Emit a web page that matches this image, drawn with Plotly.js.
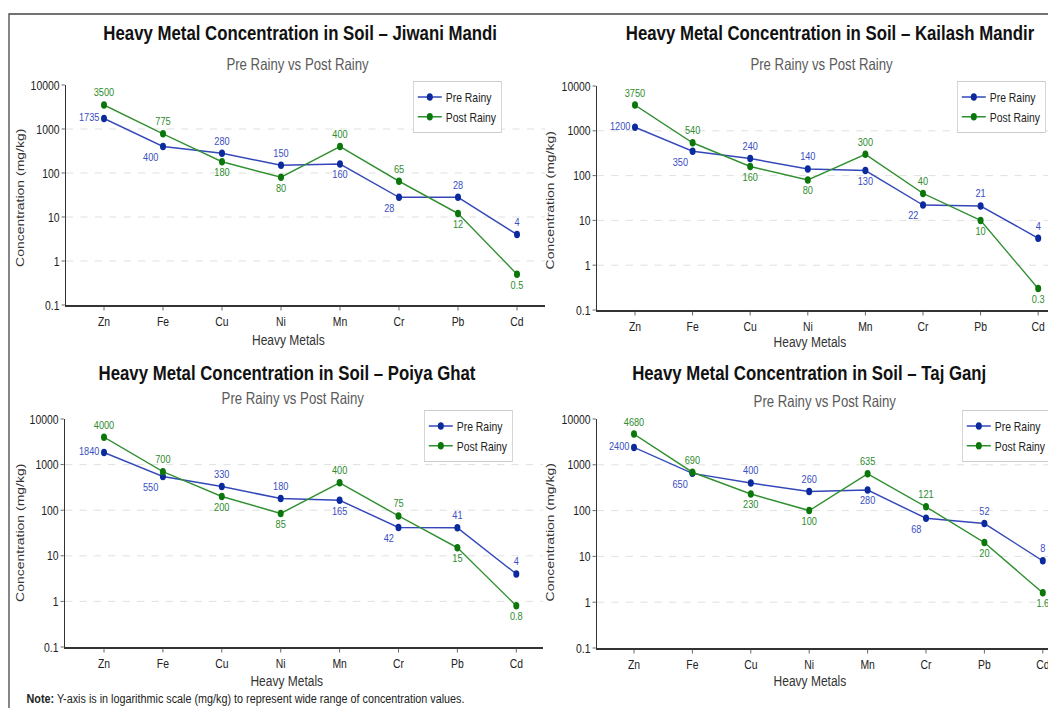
<!DOCTYPE html>
<html>
<head>
<meta charset="utf-8">
<script src="https://cdn.plot.ly/plotly-3.0.1.min.js"></script>
<style>
  html, body { margin: 0; padding: 0; overflow: hidden; background: #ffffff; width: 1048px; height: 708px; }
  #chart { width: 1375px; height: 740px; transform: scaleX(0.8); transform-origin: 0 0; }
</style>
</head>
<body>
<div id="chart"></div>
<script>
// ---------------- DATA ----------------
const metals = ['Zn', 'Fe', 'Cu', 'Ni', 'Mn', 'Cr', 'Pb', 'Cd'];
const sites = ['Jiwani Mandi', 'Kailash Mandir', 'Poiya Ghat', 'Taj Ganj'];
const seriesNames = ['Pre Rainy', 'Post Rainy'];

const jiwaniPre   = [1735, 400, 280, 150, 160, 28, 28, 4];
const jiwaniPost  = [3500, 775, 180, 80, 400, 65, 12, 0.5];
const kailashPre  = [1200, 350, 240, 140, 130, 22, 21, 4];
const kailashPost = [3750, 540, 160, 80, 300, 40, 10, 0.3];
const poiyaPre    = [1840, 550, 330, 180, 165, 42, 41, 4];
const poiyaPost   = [4000, 700, 200, 85, 400, 75, 15, 0.8];
const tajPre      = [2400, 650, 400, 260, 280, 68, 52, 8];
const tajPost     = [4680, 690, 230, 100, 635, 121, 20, 1.6];

const yTickVals = [0.1, 1, 10, 100, 1000, 10000];
const yTickText = ['0.1', '1', '10', '100', '1000', '10000'];

const noteText = '<b>Note:</b> Y-axis is in logarithmic scale (mg/kg) to represent wide range of concentration values.';

// ---------------- STYLE / LAYOUT ----------------
// The reference is horizontally condensed; the plot is drawn wider and squeezed with CSS.
const SQ = 0.8;
const FW = 1100;            // final (on-screen) width the fractions are based on
const W = FW / SQ, H = 740; // internal plot size
const px = v => v / FW;
const py = v => 1 - v / H;

const FONT = '"Liberation Sans", Arial, sans-serif';
const preLine = '#3347b8', preMarker = '#0b2a9e', preText = '#3a4ec2';
const postLine = '#2f8f2f', postMarker = '#0b770b', postText = '#2e8b2e';

const prePos  = ['middle left', 'bottom left', 'top center', 'top center', 'bottom center', 'bottom left', 'top center', 'top center'];
const postPos = ['top center', 'top center', 'bottom center', 'bottom center', 'top center', 'top center', 'bottom center', 'bottom center'];

// panel geometry in on-screen pixels: plot box and category spacing
const panels = [
  { pre: jiwaniPre,  post: jiwaniPost,  x0: 66,  x1: 545,  y0: 85,  y1: 305, zn: 104, step: 59.0,
    title: [300, 33], sub: [298, 64], xt: [288, 339], yt: [20, 198], leg: [413, 81] },
  { pre: kailashPre, post: kailashPost, x0: 597, x1: 1100, y0: 86,  y1: 310, zn: 635, step: 57.6,
    title: [830, 33], sub: [822, 64], xt: [810, 342], yt: [550, 200], leg: [957, 81] },
  { pre: poiyaPre,   post: poiyaPost,   x0: 65,  x1: 543,  y0: 419, y1: 647, zn: 104, step: 58.9,
    title: [287, 373], sub: [293, 398], xt: [287, 680], yt: [20, 533], leg: [424, 410] },
  { pre: tajPre,     post: tajPost,     x0: 597, x1: 1100, y0: 419, y1: 648, zn: 634, step: 58.4,
    title: [809, 373], sub: [825, 401], xt: [810, 680], yt: [550, 532], leg: [962, 410] }
];

const traces = [];
const layout = {
  width: W, height: H,
  margin: { l: 0, r: 0, t: 0, b: 0 },
  paper_bgcolor: '#ffffff',
  plot_bgcolor: 'rgba(0,0,0,0)',
  font: { family: FONT, color: '#222' },
  showlegend: true,
  hovermode: false,
  annotations: [],
  shapes: [
    { type: 'rect', xref: 'paper', yref: 'paper', x0: px(9), x1: px(1200), y0: py(14), y1: py(800),
      line: { color: '#444', width: 1.6 }, fillcolor: 'rgba(0,0,0,0)' }
  ]
};

panels.forEach((p, i) => {
  const sfx = i === 0 ? '' : String(i + 1);
  const xa = 'x' + sfx, ya = 'y' + sfx;
  const legName = i === 0 ? 'legend' : 'legend' + (i + 1);

  traces.push({
    type: 'scatter', mode: 'lines+markers+text',
    name: seriesNames[0], x: metals, y: p.pre,
    text: p.pre.map(v => String(v)), textposition: prePos,
    textfont: { family: FONT, size: 11.5, color: preText },
    line: { color: preLine, width: 1.5 },
    marker: { color: preMarker, size: 7.5 },
    xaxis: xa, yaxis: ya, legend: legName, cliponaxis: false
  });
  traces.push({
    type: 'scatter', mode: 'lines+markers+text',
    name: seriesNames[1], x: metals, y: p.post,
    text: p.post.map(v => String(v)), textposition: postPos,
    textfont: { family: FONT, size: 11.5, color: postText },
    line: { color: postLine, width: 1.5 },
    marker: { color: postMarker, size: 7.5 },
    xaxis: xa, yaxis: ya, legend: legName, cliponaxis: false
  });

  const xr0 = (p.x0 - p.zn) / p.step, xr1 = (p.x1 - p.zn) / p.step;
  layout['xaxis' + sfx] = {
    domain: [px(p.x0), Math.min(1, px(p.x1))], anchor: ya,
    type: 'category', range: [xr0, xr1],
    showgrid: false, zeroline: false,
    showline: true, linecolor: '#333', linewidth: 1.5,
    ticks: 'outside', ticklen: 4, tickcolor: '#555', tickwidth: 1,
    tickfont: { family: FONT, size: 13, color: '#222' },
    fixedrange: true
  };
  layout['yaxis' + sfx] = {
    domain: [py(p.y1), py(p.y0)], anchor: xa,
    type: 'log', range: [-1, 4],
    tickvals: yTickVals, ticktext: yTickText,
    showgrid: true, gridcolor: '#dddddd', griddash: 'dash', gridwidth: 1,
    zeroline: false,
    showline: true, linecolor: '#333', linewidth: 1.5,
    ticks: 'outside', ticklen: 4, tickcolor: '#555', tickwidth: 1,
    tickfont: { family: FONT, size: 13, color: '#222' },
    fixedrange: true
  };
  layout[legName] = {
    x: px(p.leg[0]), y: py(p.leg[1]), xanchor: 'left', yanchor: 'top',
    xref: 'paper', yref: 'paper',
    bgcolor: '#ffffff', bordercolor: '#cccccc', borderwidth: 1,
    font: { family: FONT, size: 13, color: '#222' },
    tracegroupgap: 0, itemwidth: 30
  };

  const ann = (txt, xy, size, color, extra) => Object.assign({
    text: txt, xref: 'paper', yref: 'paper', x: px(xy[0]), y: py(xy[1]),
    xanchor: 'center', yanchor: 'middle', showarrow: false,
    font: { family: FONT, size: size, color: color }
  }, extra || {});

  layout.annotations.push(ann('<b>Heavy Metal Concentration in Soil – ' + sites[i] + '</b>', p.title, 21, '#111'));
  layout.annotations.push(ann('Pre Rainy vs Post Rainy', p.sub, 16.5, '#5a5a5a'));
  layout.annotations.push(ann('Heavy Metals', p.xt, 15, '#333'));
  layout.annotations.push(ann('Concentration (mg/kg)', p.yt, 14, '#333', { textangle: -90 }));
});

layout.annotations.push({
  text: noteText, xref: 'paper', yref: 'paper', x: px(25), y: py(698),
  xanchor: 'left', yanchor: 'middle', showarrow: false,
  font: { family: FONT, size: 13.5, color: '#222' }
});

Plotly.newPlot('chart', traces, layout, { staticPlot: true, displayModeBar: false });
</script>
</body>
</html>
